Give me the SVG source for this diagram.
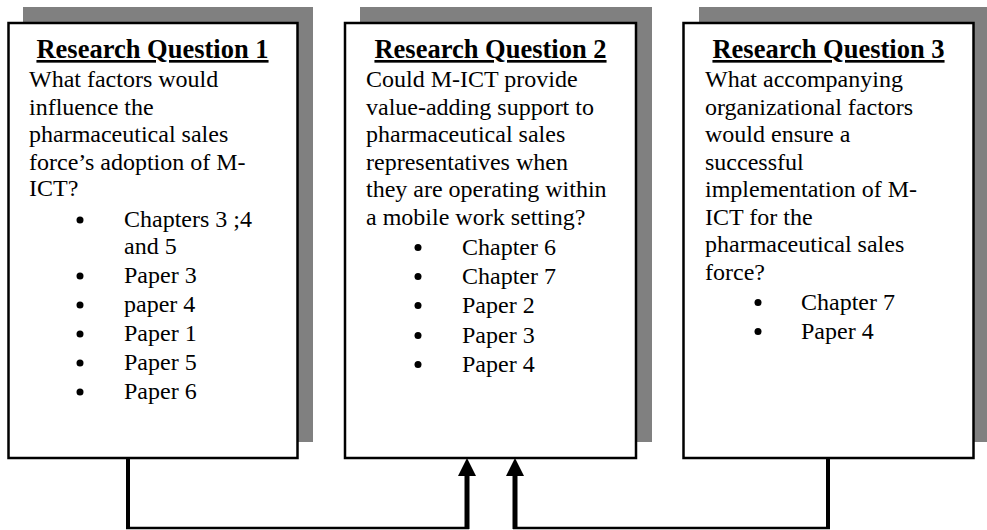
<svg xmlns="http://www.w3.org/2000/svg" width="987" height="530" viewBox="0 0 987 530">
<defs>
<style>
.shadow{fill:#808080;stroke:none}
.box{fill:#ffffff;stroke:#000000;stroke-width:2.5}
.title{font-family:"Liberation Serif","Times New Roman",serif;font-size:26.5px;font-weight:bold;text-anchor:middle;text-decoration:underline;fill:#000}
.txt{font-family:"Liberation Serif","Times New Roman",serif;font-size:24px;fill:#000}
.dot{fill:#000}
.conn{fill:none;stroke:#000;stroke-linejoin:miter}
.head{fill:#000;stroke:none}
</style>
</defs>
<rect width="987" height="530" fill="#ffffff"/>

<g id="rq1">
<rect class="shadow" x="23" y="7" width="290" height="435"/>
<rect class="box" x="8.5" y="23" width="289" height="435"/>
<text class="title" x="152.5" y="58">Research Question 1</text>
<text class="txt" x="29" y="87">What factors would</text>
<text class="txt" x="29" y="114.5">influence the</text>
<text class="txt" x="29" y="142">pharmaceutical sales</text>
<text class="txt" x="29" y="169.5">force’s adoption of M-</text>
<text class="txt" x="29" y="196">ICT?</text>
<circle class="dot" cx="80" cy="220" r="3.5"/>
<text class="txt" x="124" y="227">Chapters 3 ;4</text>
<text class="txt" x="124" y="254">and 5</text>
<circle class="dot" cx="80" cy="276" r="3.5"/>
<text class="txt" x="124" y="283">Paper 3</text>
<circle class="dot" cx="80" cy="305" r="3.5"/>
<text class="txt" x="124" y="312">paper 4</text>
<circle class="dot" cx="80" cy="334" r="3.5"/>
<text class="txt" x="124" y="341">Paper 1</text>
<circle class="dot" cx="80" cy="363" r="3.5"/>
<text class="txt" x="124" y="370">Paper 5</text>
<circle class="dot" cx="80" cy="392" r="3.5"/>
<text class="txt" x="124" y="399">Paper 6</text>
</g>

<g id="rq2">
<rect class="shadow" x="360" y="7" width="292" height="435"/>
<rect class="box" x="345" y="23" width="291" height="435"/>
<text class="title" x="490.5" y="58">Research Question 2</text>
<text class="txt" x="366" y="87">Could M-ICT provide</text>
<text class="txt" x="366" y="114.5">value-adding support to</text>
<text class="txt" x="366" y="142">pharmaceutical sales</text>
<text class="txt" x="366" y="169.5">representatives when</text>
<text class="txt" x="366" y="197">they are operating within</text>
<text class="txt" x="366" y="224.5">a mobile work setting?</text>
<circle class="dot" cx="418" cy="247.5" r="3.5"/>
<text class="txt" x="462" y="255">Chapter 6</text>
<circle class="dot" cx="418" cy="276.5" r="3.5"/>
<text class="txt" x="462" y="284">Chapter 7</text>
<circle class="dot" cx="418" cy="305.5" r="3.5"/>
<text class="txt" x="462" y="313">Paper 2</text>
<circle class="dot" cx="418" cy="335.5" r="3.5"/>
<text class="txt" x="462" y="343">Paper 3</text>
<circle class="dot" cx="418" cy="364.5" r="3.5"/>
<text class="txt" x="462" y="372">Paper 4</text>
</g>

<g id="rq3">
<rect class="shadow" x="699" y="7" width="290" height="435"/>
<rect class="box" x="683.5" y="23" width="290" height="435"/>
<text class="title" x="828.5" y="58">Research Question 3</text>
<text class="txt" x="705" y="87">What accompanying</text>
<text class="txt" x="705" y="114.5">organizational factors</text>
<text class="txt" x="705" y="142">would ensure a</text>
<text class="txt" x="705" y="169.5">successful</text>
<text class="txt" x="705" y="197">implementation of M-</text>
<text class="txt" x="705" y="224.5">ICT for the</text>
<text class="txt" x="705" y="252">pharmaceutical sales</text>
<text class="txt" x="705" y="279.5">force?</text>
<circle class="dot" cx="758" cy="302.5" r="3.5"/>
<text class="txt" x="801" y="310">Chapter 7</text>
<circle class="dot" cx="758" cy="331.5" r="3.5"/>
<text class="txt" x="801" y="339">Paper 4</text>
</g>

<g id="connectors">
<path class="conn" d="M128,459 V528" stroke-width="4"/>
<path class="conn" d="M126,528 H469" stroke-width="2.5"/>
<path class="conn" d="M467,529 V474" stroke-width="5"/>
<polygon class="head" points="467,458 458,476 476,476"/>
<path class="conn" d="M828,459 V528" stroke-width="4"/>
<path class="conn" d="M830,528 H513" stroke-width="2.5"/>
<path class="conn" d="M515,529 V474" stroke-width="5"/>
<polygon class="head" points="515,458 506,476 524,476"/>
</g>
</svg>
